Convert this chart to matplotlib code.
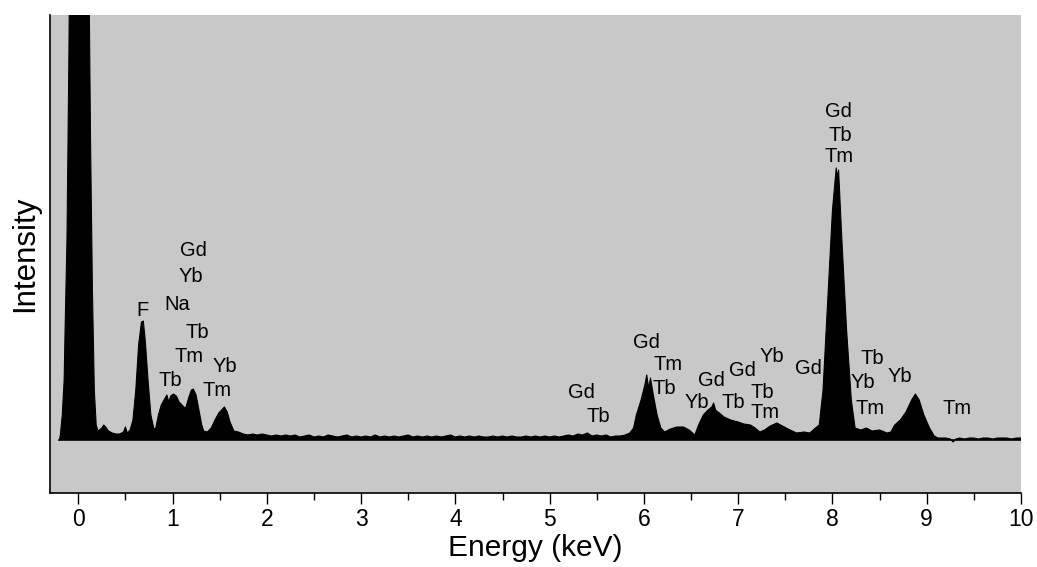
import matplotlib
matplotlib.use("Agg")
import matplotlib.pyplot as plt
from matplotlib.ticker import MultipleLocator

plt.rcParams['font.family'] = ['Liberation Sans', 'DejaVu Sans']

# Spectrum (energy in keV, intensity in arbitrary units)
energy = [
    -0.20, -0.19, -0.17, -0.15, -0.14, -0.12, -0.10, -0.09, -0.05, 0.00, 0.05, 0.10, 0.117,
    0.13, 0.15, 0.17, 0.19, 0.21, 0.25, 0.27, 0.29, 0.32, 0.36, 0.40, 0.44, 0.48, 0.50,
    0.52, 0.55, 0.58, 0.61, 0.64, 0.67, 0.69, 0.71, 0.74, 0.77, 0.80, 0.82, 0.85, 0.88,
    0.91, 0.94, 0.96, 0.98, 1.01, 1.04, 1.07, 1.09, 1.12, 1.14, 1.17, 1.20, 1.22, 1.25,
    1.28, 1.31, 1.33, 1.37, 1.41, 1.45, 1.49, 1.52, 1.55, 1.58, 1.61, 1.65,
    1.70, 1.75, 1.80, 1.85, 1.90, 1.95, 2.00, 2.05, 2.10, 2.15, 2.20, 2.25, 2.30, 2.35,
    2.40, 2.45, 2.50, 2.55, 2.60, 2.65, 2.70, 2.75, 2.80, 2.85, 2.90, 2.95, 3.00, 3.05,
    3.10, 3.15, 3.20, 3.25, 3.30, 3.35, 3.40, 3.45, 3.50, 3.55, 3.60, 3.65, 3.70, 3.75,
    3.80, 3.85, 3.90, 3.95, 4.00, 4.05, 4.10, 4.15, 4.20, 4.25, 4.30, 4.35, 4.40, 4.45,
    4.50, 4.55, 4.60, 4.65, 4.70, 4.75, 4.80, 4.85, 4.90, 4.95, 5.00, 5.05, 5.10, 5.15,
    5.20, 5.25, 5.30, 5.35, 5.40, 5.45, 5.50, 5.55, 5.60, 5.65, 5.70, 5.75, 5.80, 5.85,
    5.89, 5.92, 5.97, 6.01, 6.03, 6.05, 6.07, 6.10, 6.14, 6.18, 6.22, 6.28, 6.35, 6.42,
    6.48, 6.54, 6.58, 6.63, 6.68, 6.72, 6.74, 6.76, 6.80, 6.85, 6.92, 7.00, 7.06, 7.13,
    7.18, 7.23, 7.28, 7.34, 7.41, 7.47, 7.55, 7.62, 7.70, 7.76, 7.82, 7.86, 7.90, 7.95,
    8.00, 8.04, 8.055, 8.065, 8.10, 8.15, 8.20, 8.24, 8.30, 8.36, 8.42, 8.50, 8.58, 8.62,
    8.66, 8.72, 8.78, 8.84, 8.88, 8.92, 8.97, 9.03, 9.08, 9.12, 9.15, 9.20, 9.25, 9.28,
    9.31, 9.35, 9.40, 9.45, 9.50, 9.55, 9.60, 9.65, 9.70, 9.75, 9.80, 9.85, 9.90, 9.95,
    10.00,
]
intensity = [
    0, 5, 25, 60, 110, 200, 380, 500, 1500, 3000, 2000, 800, 430,
    300, 150, 50, 15, 9, 12, 15, 13, 9, 7, 6, 6, 8, 13,
    7, 10, 20, 50, 95, 118, 119, 100, 60, 25, 12, 11, 25, 35,
    40, 45, 38, 44, 46, 44, 38, 36, 33, 32, 42, 50, 51, 45,
    30, 15, 9, 8, 12, 20, 27, 30, 33, 28, 18, 9,
    8, 6, 5, 6, 5, 6, 5, 4, 5, 4, 5, 4, 5, 3,
    4, 5, 3, 4, 3, 5, 4, 3, 4, 5, 3, 4, 3, 4,
    3, 5, 3, 4, 3, 4, 3, 4, 5, 3, 4, 3, 4, 3,
    4, 3, 4, 5, 3, 4, 3, 4, 3, 4, 3, 3, 4, 3,
    4, 3, 4, 3, 3, 4, 3, 4, 3, 4, 3, 4, 3, 4,
    5, 4, 6, 5, 7, 4, 5, 4, 5, 3, 4, 4, 5, 7,
    12, 25, 40, 55, 65, 52, 62, 45, 25, 12, 8, 11, 13, 13,
    10, 5, 15, 25, 30, 33, 37, 30, 27, 23, 20, 18, 16, 15,
    12, 8, 10, 14, 17, 14, 10, 7, 8, 7, 12, 15, 50, 140,
    230, 272, 262, 270, 200, 110, 40, 12, 10, 12, 9, 10, 7, 8,
    15, 20, 28, 40, 46, 40, 25, 12, 4, 2, 2, 2, 1, -2,
    1, 2, 1, 2, 2, 1, 2, 2, 1, 2, 2, 2, 1, 2,
    2,
]

# Peak annotations: text, energy position, label height
label_text = ["F", "Gd", "Yb", "Na", "Tb", "Tm", "Tb", "Yb", "Tm",
              "Gd", "Tb", "Gd", "Tm", "Tb", "Yb", "Gd", "Tb", "Gd", "Yb", "Tb", "Tm",
              "Gd", "Tb", "Yb", "Tm", "Yb", "Tm", "Gd", "Tb", "Tm"]
label_x = [0.68, 1.22, 1.19, 1.05, 1.26, 1.17, 0.98, 1.55, 1.47,
           5.34, 5.52, 6.03, 6.26, 6.22, 6.56, 6.72, 6.95, 7.05, 7.36, 7.26, 7.29,
           7.75, 8.42, 8.32, 8.40, 8.72, 9.32, 8.06, 8.08, 8.07]
label_y = [130, 189, 163, 135, 107, 83, 59, 73, 49,
           47, 23, 98, 75, 52, 37, 60, 38, 69, 83, 48, 27,
           72, 81, 57, 32, 63, 32, 329, 305, 284]

x_ticks = [0, 1, 2, 3, 4, 5, 6, 7, 8, 9, 10]

fig = plt.figure(figsize=(10.37, 5.67), dpi=100)
ax = fig.add_axes([50/1037, 1-493/567, (1021-50)/1037, (493-15)/567])
ax.set_facecolor('#c8c8c8')

ax.fill_between(energy, 0, intensity, color='black', linewidth=0)
ax.plot(energy, intensity, color='black', linewidth=0.8)
ax.plot([energy[0], energy[-1]], [0, 0], color='black', linewidth=1.2)

for t, x, y in zip(label_text, label_x, label_y):
    ax.text(x, y, t, ha='center', va='center', fontsize=14.5, color='black')

ax.set_xlim(-0.3, 10)
ax.set_ylim(-53, 425)
ax.set_xticks(x_ticks)
ax.xaxis.set_minor_locator(MultipleLocator(0.5))
ax.set_yticks([])
ax.tick_params(axis='x', which='major', direction='out', length=8, width=1, labelsize=16.5, pad=3)
ax.tick_params(axis='x', which='minor', direction='out', length=5, width=1)
for s in ['top', 'right']:
    ax.spines[s].set_visible(False)
ax.spines['left'].set_linewidth(1.2)
ax.spines['bottom'].set_linewidth(1.2)

ax.set_xlabel('Energy (keV)', fontsize=21.5, labelpad=2)
ax.set_ylabel('Intensity', fontsize=22.5, labelpad=7)

fig.savefig('out.png', dpi=100)
